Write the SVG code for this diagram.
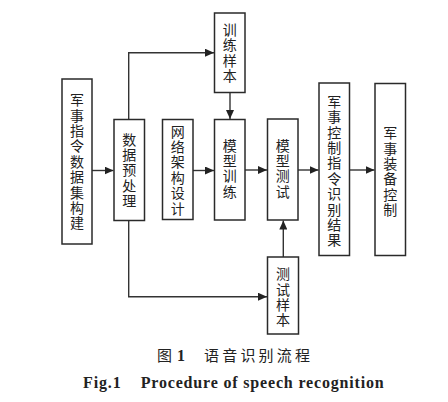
<svg xmlns="http://www.w3.org/2000/svg" width="448" height="402" viewBox="0 0 448 402">
<style>
.box{fill:#fff;stroke:#2a2a2a;stroke-width:1.5}
.lbl{font-family:"Noto Sans CJK SC","Noto Sans CJK JP",sans-serif;font-size:14px;fill:#222;text-anchor:middle;writing-mode:vertical-rl;letter-spacing:1.4px}
.ln{fill:none;stroke:#333;stroke-width:1.4}
.cap{font-family:"Liberation Serif","Noto Sans CJK SC",serif;font-weight:bold;font-size:16px;fill:#222}
.capc{font-family:"Noto Sans CJK SC",sans-serif;font-size:15px;fill:#222}
</style>
<defs>
<marker id="ah" markerWidth="9" markerHeight="8" refX="9" refY="4" orient="auto" markerUnits="userSpaceOnUse">
<path d="M0,0 L9,4 L0,8 Z" fill="#222"/>
</marker>
</defs>
<rect width="448" height="402" fill="#fff"/>
<g id="connectors">
<line class="ln" x1="92" y1="170.5" x2="113.5" y2="170.5" marker-end="url(#ah)"/>
<line class="ln" x1="193" y1="170.5" x2="214" y2="170.5" marker-end="url(#ah)"/>
<line class="ln" x1="245" y1="170" x2="267" y2="170" marker-end="url(#ah)"/>
<line class="ln" x1="298" y1="170" x2="318.5" y2="170" marker-end="url(#ah)"/>
<line class="ln" x1="349.5" y1="170" x2="374.5" y2="170" marker-end="url(#ah)"/>
<polyline class="ln" points="128.7,119.5 128.7,52.7 214,52.7" marker-end="url(#ah)"/>
<line class="ln" x1="230" y1="92.5" x2="230" y2="119" marker-end="url(#ah)"/>
<polyline class="ln" points="128.7,220.5 128.7,296.7 267,296.7" marker-end="url(#ah)"/>
<line class="ln" x1="283.3" y1="257" x2="283.3" y2="220.5" marker-end="url(#ah)"/>
</g>
<g id="n1"><rect class="box" x="62" y="79" width="30" height="165"/>
<text class="lbl" x="77" y="162.2">军事指令数据集构建</text></g>
<g id="n2"><rect class="box" x="114" y="119.5" width="30.5" height="101"/>
<text class="lbl" x="129.2" y="170.7">数据预处理</text></g>
<g id="n3"><rect class="box" x="162.5" y="119.5" width="30.5" height="100"/>
<text class="lbl" x="177.7" y="170.4">网络架构设计</text></g>
<g id="n4"><rect class="box" x="214.5" y="13" width="30.5" height="79.5"/>
<text class="lbl" x="229.7" y="53.2">训练样本</text></g>
<g id="n5"><rect class="box" x="214.5" y="119.5" width="30.5" height="100.5"/>
<text class="lbl" x="229.7" y="169">模型训练</text></g>
<g id="n6"><rect class="box" x="267.5" y="119" width="30.5" height="101"/>
<text class="lbl" x="282.7" y="169">模型测试</text></g>
<g id="n7"><rect class="box" x="319" y="83" width="30.5" height="172.5"/>
<text class="lbl" x="334.2" y="171.5">军事控制指令识别结果</text></g>
<g id="n8"><rect class="box" x="375" y="83.5" width="30.5" height="172"/>
<text class="lbl" x="390.2" y="172">军事装备控制</text></g>
<g id="n9"><rect class="box" x="267.5" y="257" width="31" height="77"/>
<text class="lbl" x="283" y="297.7">测试样本</text></g>
<g id="caption">
<text class="capc" x="157" y="361">图</text>
<text class="cap" x="177" y="361" font-size="15">1</text>
<text class="capc" x="204" y="361" textLength="106" lengthAdjust="spacing">语音识别流程</text>
<text class="cap" x="83" y="388.3" textLength="37.7" lengthAdjust="spacing">Fig.1</text>
<text class="cap" x="140.7" y="388.3" textLength="243" lengthAdjust="spacing">Procedure of speech recognition</text>
</g>
</svg>
